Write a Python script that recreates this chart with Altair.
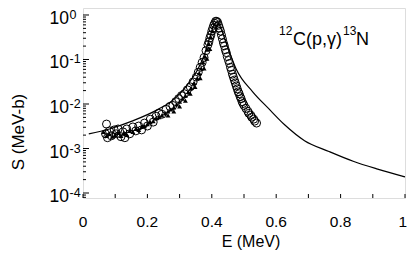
import altair as alt
import pandas as pd

FONT = "Liberation Sans"

# theory curve
line_E = [0.018, 0.082, 0.152, 0.233, 0.285, 0.333, 0.355, 0.376, 0.394, 0.406, 0.415,
          0.424, 0.436, 0.452, 0.476, 0.527, 0.576, 0.627, 0.688, 0.764, 0.839, 0.915, 1.0]
line_S = [0.00214, 0.00275, 0.00412, 0.00757, 0.0132, 0.0328, 0.0573, 0.1225, 0.32, 0.588, 0.684,
          0.588, 0.354, 0.166, 0.0603, 0.0188, 0.00796, 0.00337, 0.0015, 0.000859, 0.000518, 0.000345, 0.000231]

# open circles
circ_E = [0.070, 0.073, 0.076, 0.082, 0.088, 0.097, 0.103, 0.109, 0.118, 0.124, 0.130, 0.136, 0.145,
          0.155, 0.164, 0.173, 0.182, 0.191, 0.200, 0.209, 0.218, 0.227, 0.236, 0.245, 0.258, 0.270,
          0.279, 0.288, 0.297, 0.306, 0.315, 0.324, 0.333, 0.342, 0.352, 0.358, 0.364, 0.370, 0.376,
          0.382, 0.388, 0.394, 0.400, 0.406, 0.412, 0.418, 0.424, 0.430, 0.436, 0.442, 0.448, 0.455,
          0.461, 0.467, 0.473, 0.479, 0.485, 0.491, 0.497, 0.506, 0.515, 0.524, 0.533, 0.539,
          0.409, 0.415, 0.403, 0.397, 0.391, 0.421, 0.427, 0.433, 0.439, 0.445, 0.452, 0.458, 0.464,
          0.470, 0.476, 0.482, 0.488, 0.494, 0.500, 0.512, 0.521, 0.530]
circ_S = [0.00214, 0.00354, 0.00175, 0.00249, 0.00193, 0.00262, 0.00214, 0.00275, 0.00184, 0.00237,
          0.00175, 0.00275, 0.00214, 0.00305, 0.00249, 0.0032, 0.00262, 0.00373, 0.0032, 0.00456,
          0.00392, 0.00531, 0.00618, 0.00588, 0.00757, 0.00881, 0.00927, 0.0113, 0.0132, 0.0154,
          0.0170, 0.0208, 0.0243, 0.0313, 0.0402, 0.0518, 0.0667, 0.0859, 0.111, 0.158, 0.214, 0.305,
          0.434, 0.588, 0.72, 0.684, 0.505, 0.354, 0.236, 0.166, 0.116, 0.0817, 0.0573, 0.0402,
          0.0297, 0.0219, 0.0170, 0.0132, 0.01026, 0.00796, 0.00618, 0.00505, 0.00412, 0.00373,
          0.65, 0.72, 0.505, 0.354, 0.249, 0.588, 0.434, 0.29, 0.203, 0.143, 0.095, 0.0667, 0.0468,
          0.0345, 0.0255, 0.0188, 0.0146, 0.0113, 0.00927, 0.00684, 0.00558, 0.00456]

# filled triangles
tri_E = [0.064, 0.073, 0.082, 0.091, 0.100, 0.109, 0.118, 0.127, 0.136, 0.145, 0.155, 0.164, 0.173,
         0.182, 0.191, 0.200, 0.209, 0.218, 0.227, 0.236, 0.245, 0.255, 0.264, 0.273, 0.282, 0.291,
         0.300, 0.309, 0.318, 0.327, 0.336, 0.345, 0.355, 0.361, 0.367, 0.373, 0.379, 0.385, 0.391,
         0.397, 0.403,
         0.264, 0.282, 0.300, 0.318, 0.333, 0.348, 0.364, 0.376, 0.385, 0.394]
tri_S = [0.00237, 0.00193, 0.00214, 0.00184, 0.00203, 0.00225, 0.00193, 0.00225, 0.00203, 0.00249,
         0.00237, 0.00275, 0.00262, 0.00305, 0.0032, 0.00354, 0.00392, 0.00412, 0.0048, 0.00505,
         0.00558, 0.00618, 0.00684, 0.00757, 0.00838, 0.00975, 0.0113, 0.0132, 0.0154, 0.0188,
         0.0231, 0.0297, 0.0382, 0.0492, 0.0634, 0.0859, 0.116, 0.166, 0.225, 0.32, 0.434,
         0.00558, 0.00684, 0.00881, 0.0119, 0.0170, 0.0243, 0.0382, 0.0634, 0.105, 0.174]

x_ticks = [0.0, 0.1, 0.2, 0.3, 0.4, 0.5, 0.6, 0.7, 0.8, 0.9, 1.0]
x_label_vals = [0.0, 0.2, 0.4, 0.6, 0.8]
x_label_txt = ["0", "0.2", "0.4", "0.6", "0.8"]
x_last_val = [1.0]
x_last_txt = ["1"]
y_major = [1.0, 0.1, 0.01, 0.001, 0.0001]
y_exp_txt = ["0", "-1", "-2", "-3", "-4"]
minor_mult = [2, 3, 4, 5, 6, 7, 8, 9]

W, H = 322, 190
y_lo, y_hi = 10 ** -4.112, 10 ** 0.157
xs = alt.Scale(domain=[0, 1], nice=False, zero=False)
ys = alt.Scale(type="log", domain=[y_lo, y_hi], nice=False)

y_minor = [m * 10.0 ** d for d in range(-5, 1) for m in minor_mult if y_lo <= m * 10.0 ** d <= y_hi]

df_line = pd.DataFrame({"E": line_E, "S": line_S})
df_circ = pd.DataFrame({"E": circ_E, "S": circ_S})
df_tri = pd.DataFrame({"E": tri_E, "S": tri_S})

X = lambda f="E": alt.X(f"{f}:Q", scale=xs, axis=None)
Y = lambda f="S": alt.Y(f"{f}:Q", scale=ys, axis=None)

line = alt.Chart(df_line).mark_line(color="black", strokeWidth=1.2, interpolate="monotone").encode(x=X(), y=Y())
circ = alt.Chart(df_circ).mark_point(shape="circle", filled=False, size=64, stroke="black",
                                     strokeWidth=1, opacity=1).encode(x=X(), y=Y())
tri = alt.Chart(df_tri).mark_point(shape="triangle-up", filled=True, size=24, color="black",
                                   opacity=1).encode(x=X(), y=Y())

xt = alt.Chart(pd.DataFrame({"t": x_ticks})).mark_rule(color="black", strokeWidth=1).encode(
    x=X("t"), y=alt.value(H), y2=alt.value(H - 4))
ymaj = alt.Chart(pd.DataFrame({"v": y_major})).mark_rule(color="black", strokeWidth=1).encode(
    y=Y("v"), x=alt.value(0), x2=alt.value(6))
ymin = alt.Chart(pd.DataFrame({"v": y_minor})).mark_rule(color="black", strokeWidth=1).encode(
    y=Y("v"), x=alt.value(0), x2=alt.value(3))

xlab = alt.Chart(pd.DataFrame({"v": x_label_vals, "t": x_label_txt})).mark_text(
    font=FONT, fontSize=15.5, align="center", baseline="alphabetic", color="black").encode(
    x=X("v"), y=alt.value(H + 29), text="t:N")
xlab_last = alt.Chart(pd.DataFrame({"v": x_last_val, "t": x_last_txt})).mark_text(
    font=FONT, fontSize=15.5, align="right", baseline="alphabetic", dx=2, color="black").encode(
    x=X("v"), y=alt.value(H + 29), text="t:N")

ylab10 = alt.Chart(pd.DataFrame({"v": y_major})).mark_text(
    font=FONT, fontSize=17.5, align="right", baseline="alphabetic", dy=9, color="black", text="10").encode(
    y=Y("v"), x=alt.value(-14))
ylabexp = alt.Chart(pd.DataFrame({"v": y_major, "t": y_exp_txt})).mark_text(
    font=FONT, fontSize=12.5, align="left", baseline="alphabetic", dy=4, color="black").encode(
    y=Y("v"), x=alt.value(-13.5), text="t:N")

def label(txt, x, y, size, **kw):
    return alt.Chart(pd.DataFrame({"t": [txt]})).mark_text(
        font=FONT, fontSize=size, color="black", **kw).encode(
        x=alt.value(x), y=alt.value(y), text="t:N")

xtitle = label("E (MeV)", 168, 239, 16, align="center", baseline="alphabetic")
ytitle = label("S (MeV-b)", -64, 124, 17, align="center", baseline="middle", angle=270)
a1 = label("12", 196, 27, 12, align="left", baseline="alphabetic")
a2 = label("C(p,\u03b3)", 210, 37, 18, align="left", baseline="alphabetic")
a3 = label("13", 260, 27, 12, align="left", baseline="alphabetic")
a4 = label("N", 273, 37, 18, align="left", baseline="alphabetic")

chart = alt.layer(line, circ, tri, xt, ymaj, ymin, xlab, xlab_last, ylab10, ylabexp, xtitle, ytitle,
                  a1, a2, a3, a4).properties(
    width=W, height=H,
    autosize=alt.AutoSizeParams(type="none"),
    padding={"left": 75, "top": 0, "right": 2, "bottom": 52},
).configure_view(stroke="black", strokeWidth=1.5).configure(background="white")

chart.save("out.html", embed_options={"renderer": "svg", "actions": False})
